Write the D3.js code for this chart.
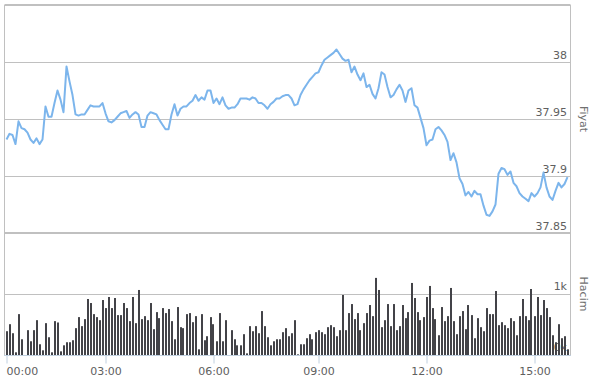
<!DOCTYPE html>
<html>
<head>
    <title>Fiyat / Hacim</title>
    <script src="https://cdnjs.cloudflare.com/ajax/libs/d3/7.8.5/d3.min.js"></script>
    <style>
        body { margin: 0; background: #fff; }
        .lbl { font-family: 'DejaVu Sans', Verdana, sans-serif; font-size: 11px; fill: #606060; }
        .ttl { font-family: 'DejaVu Sans', Verdana, sans-serif; font-size: 11px; fill: #707070; }
    </style>
</head>
<body>
<div id="chart"></div>
<script>
//------------------------------------DATA--------------------------------
// 5 minute slots, ordinal x axis (index of slot)
var prices = [37.932,37.937,37.936,37.928,37.948,37.942,37.941,37.938,37.932,37.929,
    37.933,37.928,37.932,37.961,37.952,37.952,37.964,37.975,37.967,37.956,
    37.996,37.983,37.971,37.954,37.953,37.954,37.954,37.958,37.962,37.961,
    37.961,37.961,37.964,37.955,37.948,37.947,37.949,37.952,37.955,37.956,
    37.957,37.951,37.954,37.956,37.954,37.943,37.943,37.953,37.956,37.955,
    37.954,37.949,37.945,37.941,37.941,37.954,37.963,37.953,37.959,37.961,
    37.961,37.964,37.966,37.971,37.966,37.969,37.967,37.975,37.975,37.964,
    37.968,37.963,37.969,37.962,37.959,37.960,37.960,37.963,37.968,37.968,
    37.968,37.967,37.969,37.968,37.964,37.964,37.962,37.959,37.963,37.965,
    37.968,37.968,37.970,37.971,37.971,37.968,37.962,37.963,37.971,37.976,
    37.980,37.984,37.987,37.990,37.991,37.997,38.002,38.004,38.006,38.008,
    38.011,38.007,38.003,38.001,38.002,37.991,37.996,37.989,37.984,37.990,
    37.978,37.980,37.972,37.968,37.977,37.991,37.989,37.978,37.969,37.971,
    37.976,37.980,37.975,37.965,37.975,37.977,37.962,37.960,37.951,37.942,
    37.927,37.931,37.932,37.941,37.943,37.940,37.936,37.930,37.914,37.920,
    37.912,37.898,37.893,37.883,37.886,37.882,37.887,37.884,37.884,37.874,
    37.866,37.865,37.869,37.875,37.902,37.907,37.906,37.901,37.904,37.894,
    37.891,37.885,37.882,37.880,37.878,37.885,37.882,37.885,37.890,37.903,
    37.890,37.882,37.879,37.887,37.894,37.890,37.893,37.899];

var volumes = [390,505,357,44,670,258,0,407,225,407,571,176,77,522,291,44,555,533,60,159,
    209,209,242,440,621,473,588,918,852,670,621,571,901,769,951,769,934,654,654,852,
    769,555,951,522,1066,588,637,571,852,423,703,604,769,687,753,555,258,786,456,440,
    670,687,538,637,93,670,242,308,621,505,225,687,225,571,0,407,258,159,159,341,
    27,473,390,473,357,720,473,291,159,225,258,258,374,440,308,357,571,11,176,176,
    275,341,258,374,407,374,341,456,489,456,308,407,984,407,687,835,588,687,407,522,
    687,819,637,1264,1066,456,571,835,473,835,407,473,819,604,703,1181,934,703,571,621,
    951,1132,769,588,324,786,555,637,1099,555,341,637,720,423,819,654,275,604,456,390,
    769,670,670,1049,489,538,489,440,604,555,324,637,918,637,571,1082,637,951,654,901,
    769,621,324,209,505,275,308,93];

var timeLabels = ["00:00", "03:00", "06:00", "09:00", "12:00", "15:00"];
var timeIndex = [0, 33, 69, 104, 140, 176];
var priceTicks = [37.85, 37.9, 37.95, 38];
var volumeTicks = [0, 1000];
//------------------------------------FINISHED--------------------------------

//------------------------------------MAKES THE BOX---------------------------
var width = 592, height = 382;
var plotLeft = 5, plotRight = 570;
var priceTop = 5, priceBottom = 233, volBottom = 355;

var svg = d3.select("#chart").append("svg")
    .attr("width", width)
    .attr("height", height);

var x = d3.scaleLinear()
    .domain([0, prices.length - 1])
    .range([6.5, 567.5]);

var yPrice = d3.scaleLinear()
    .domain([37.85, 38.05])
    .range([priceBottom, priceTop]);

var yVol = d3.scaleLinear()
    .domain([0, 2000])
    .range([volBottom, priceBottom]);
//------------------------------------FINISHED--------------------------------

//------------------------------------GRID + LABELS---------------------------
// price gridlines and labels (right side, above line)
svg.append("g").selectAll("line")
    .data(priceTicks.filter(function (d) { return d > 37.85; }))
    .enter().append("line")
    .attr("x1", plotLeft).attr("x2", plotRight)
    .attr("y1", function (d) { return Math.round(yPrice(d)) + 0.5; })
    .attr("y2", function (d) { return Math.round(yPrice(d)) + 0.5; })
    .attr("stroke", "#c0c0c0");

svg.append("g").selectAll("text")
    .data(priceTicks)
    .enter().append("text")
    .attr("class", "lbl")
    .attr("text-anchor", "end")
    .attr("x", 567)
    .attr("y", function (d) { return yPrice(d) - 3; })
    .text(function (d) { return d3.format("")(d); });

// volume gridline + labels
svg.append("line")
    .attr("x1", plotLeft).attr("x2", plotRight)
    .attr("y1", Math.round(yVol(1000)) + 0.5)
    .attr("y2", Math.round(yVol(1000)) + 0.5)
    .attr("stroke", "#c0c0c0");

svg.append("g").selectAll("text")
    .data(volumeTicks)
    .enter().append("text")
    .attr("class", "lbl")
    .attr("text-anchor", "end")
    .attr("x", 567)
    .attr("y", function (d) { return yVol(d) - 4; })
    .text(function (d) { return (d / 1000) + "k"; });

// axis titles
svg.append("text")
    .attr("class", "ttl")
    .attr("transform", "translate(580," + ((priceTop + priceBottom) / 2) + ") rotate(90)")
    .attr("text-anchor", "middle")
    .text("Fiyat");

svg.append("text")
    .attr("class", "ttl")
    .attr("transform", "translate(580," + ((priceBottom + volBottom) / 2) + ") rotate(90)")
    .attr("text-anchor", "middle")
    .text("Hacim");
//------------------------------------FINISHED--------------------------------

//------------------------------------MAKES THE BARS--------------------------
svg.append("g").selectAll("rect")
    .data(volumes)
    .enter().append("rect")
    .attr("x", function (d, i) { return Math.round(x(i)) - 1; })
    .attr("width", 2)
    .attr("y", function (d) { return yVol(d); })
    .attr("height", function (d) { return volBottom - yVol(d); })
    .attr("fill", "#434348");
//------------------------------------FINISHED--------------------------------

//------------------------------------MAKES THE LINE--------------------------
var line = d3.line()
    .x(function (d, i) { return x(i); })
    .y(function (d) { return yPrice(d); });

svg.append("path")
    .datum(prices)
    .attr("d", line)
    .attr("fill", "none")
    .attr("stroke", "#7cb5ec")
    .attr("stroke-width", 2)
    .attr("stroke-linejoin", "round");
//------------------------------------FINISHED--------------------------------

//------------------------------------BORDERS + X AXIS------------------------
var border = svg.append("g").attr("fill", "none");
border.append("line")
    .attr("x1", plotLeft - 0.5).attr("x2", plotRight + 0.5)
    .attr("y1", priceTop).attr("y2", priceTop)
    .attr("stroke", "#c0c0c0").attr("stroke-width", 2);
border.append("line")
    .attr("x1", plotLeft - 0.5).attr("x2", plotRight + 0.5)
    .attr("y1", priceBottom).attr("y2", priceBottom)
    .attr("stroke", "#c0c0c0").attr("stroke-width", 2);
border.append("line")
    .attr("x1", plotLeft - 0.5).attr("x2", plotLeft - 0.5)
    .attr("y1", priceTop).attr("y2", volBottom)
    .attr("stroke", "#c0c0c0");
border.append("line")
    .attr("x1", plotRight + 0.5).attr("x2", plotRight + 0.5)
    .attr("y1", priceTop).attr("y2", volBottom)
    .attr("stroke", "#c0c0c0");

var xAxis = d3.axisBottom(x)
    .tickValues(timeIndex)
    .tickFormat(function (d, i) { return timeLabels[i]; })
    .tickSize(8)
    .tickPadding(4);

var gx = svg.append("g")
    .attr("transform", "translate(0," + (volBottom + 0.5) + ")")
    .call(xAxis);
gx.select(".domain").attr("stroke", "#c0d0e0").attr("d", "M" + (plotLeft - 1) + ",0H" + (plotRight + 1));
gx.selectAll(".tick line").attr("stroke", "#c0d0e0");
gx.selectAll(".tick text")
    .attr("class", "lbl")
    .style("font-size", "11px")
    .attr("fill", "#606060");
// first label is pushed right so it does not overflow
gx.selectAll(".tick text").filter(function (d, i) { return i === 0; })
    .attr("text-anchor", "start")
    .attr("x", -0.5);
//------------------------------------FINISHED--------------------------------
</script>
</body>
</html>
